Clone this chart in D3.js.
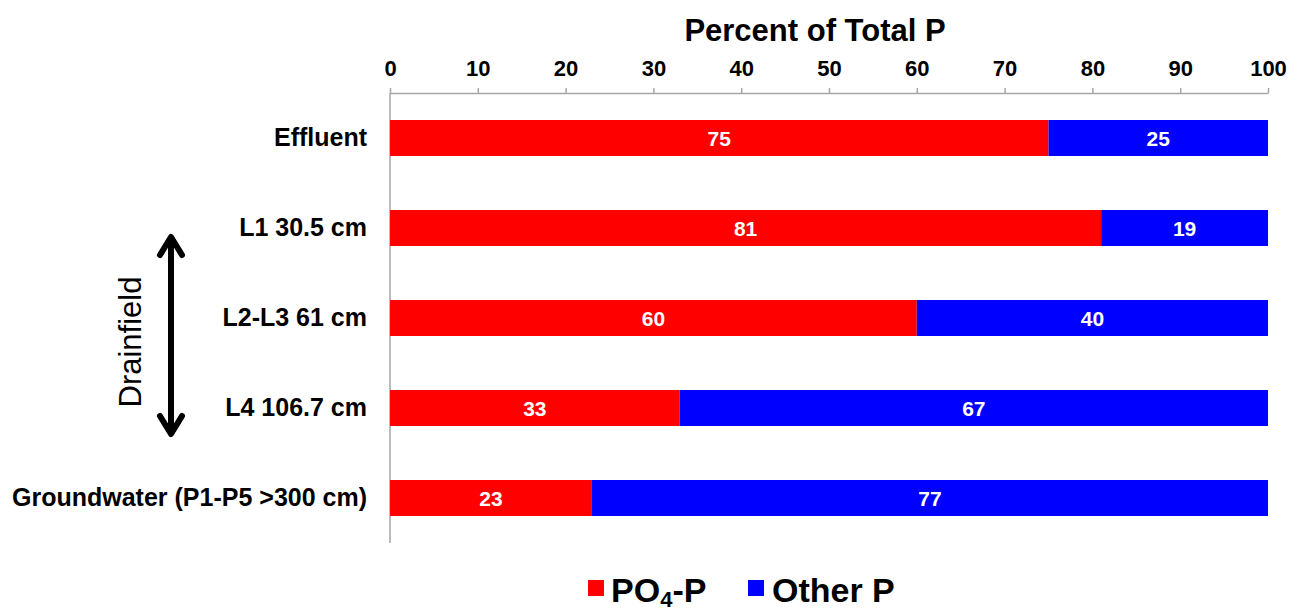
<!DOCTYPE html>
<html><head><meta charset="utf-8">
<script src="https://cdn.jsdelivr.net/npm/d3@7"></script>
<style>body{margin:0;background:#fff}svg{display:block;font-family:"Liberation Sans",Arial,sans-serif}</style>
</head><body><svg id="c" width="1307" height="610"></svg>
<script>
const categories = ["Effluent","L1 30.5 cm","L2-L3 61 cm","L4 106.7 cm","Groundwater (P1-P5 >300 cm)"];
const po4 = [75,81,60,33,23];
const other = [25,19,40,67,77];
const seriesNames = ["PO4-P","Other P"];
const colors = ["#ff0000","#0000ff"];
const xTicks = [0,10,20,30,40,50,60,70,80,90,100];

const svg = d3.select("#c");
const x = d3.scaleLinear().domain([0,100]).range([390,1268]);
const y = d3.scaleBand().domain(categories).range([93,543]).paddingInner(0.6).paddingOuter(0.3);
const FF = "Liberation Sans, Arial, sans-serif";

// title
svg.append("text").attr("x",815).attr("y",41).attr("text-anchor","middle")
  .attr("font-weight","bold").attr("font-size",31).text("Percent of Total P");

// top axis
const ax = svg.append("g").attr("transform","translate(0,93)")
  .call(d3.axisTop(x).tickValues(xTicks).tickSize(5).tickPadding(12).tickSizeOuter(0));
ax.attr("font-family",FF).attr("font-size",22);
ax.select(".domain").attr("stroke","#a6a6a6").attr("stroke-width",1.5);
ax.selectAll(".tick line").attr("stroke","#a6a6a6").attr("stroke-width",1.5);
ax.selectAll(".tick text").attr("font-size",22).attr("font-weight","bold").attr("fill","#000");

// left axis
const ay = svg.append("g").attr("transform","translate(390,0)")
  .call(d3.axisLeft(y).tickSize(0).tickPadding(23));
ay.attr("font-family",FF).attr("font-size",25);
ay.select(".domain").attr("stroke","#a6a6a6").attr("stroke-width",1.5).attr("d","M0,93V543");
ay.selectAll(".tick text").attr("font-size",25).attr("font-weight","bold").attr("fill","#000");

// stacked bars
const rows = categories.map((c,i)=>({cat:c, po4:po4[i], other:other[i]}));
const stack = d3.stack().keys(["po4","other"])(rows);
stack.forEach((s,si)=>{
  const g = svg.append("g");
  g.selectAll("rect").data(s).join("rect")
    .attr("x",d=>x(d[0])).attr("width",d=>x(d[1])-x(d[0]))
    .attr("y",d=>y(d.data.cat)).attr("height",y.bandwidth())
    .attr("fill",colors[si]);
  g.selectAll("text").data(s).join("text")
    .attr("x",d=>(x(d[0])+x(d[1]))/2).attr("y",d=>y(d.data.cat)+y.bandwidth()/2)
    .attr("dy","0.36em").attr("text-anchor","middle").attr("fill","#fff")
    .attr("font-weight","bold").attr("font-size",21)
    .text(d=>d[1]-d[0]);
});

// Drainfield annotation
svg.append("text").attr("transform","translate(141,342) rotate(-90)")
  .attr("text-anchor","middle").attr("font-size",31).text("Drainfield");
const sw = 6;
svg.append("path").attr("d","M171,238L171,432").attr("stroke","#000").attr("stroke-width",sw).attr("fill","none");
svg.append("path").attr("d","M160,255L171,237L182,255").attr("stroke","#000").attr("stroke-width",sw).attr("fill","none").attr("stroke-linecap","round").attr("stroke-linejoin","round");
svg.append("path").attr("d","M160,416L171,434L182,416").attr("stroke","#000").attr("stroke-width",sw).attr("fill","none").attr("stroke-linecap","round").attr("stroke-linejoin","round");

// legend
const lg = svg.append("g");
lg.append("rect").attr("x",588).attr("y",580).attr("width",16).attr("height",16).attr("fill",colors[0]);
const t1 = lg.append("text").attr("x",611).attr("y",602).attr("font-size",34).attr("font-weight","bold");
t1.append("tspan").text("PO");
t1.append("tspan").attr("font-size",22).attr("dy",5).text("4");
t1.append("tspan").attr("dy",-5).text("-P");
lg.append("rect").attr("x",748).attr("y",580).attr("width",16).attr("height",16).attr("fill",colors[1]);
lg.append("text").attr("x",772).attr("y",602).attr("font-size",34).attr("font-weight","bold").text("Other P");
</script></body></html>
